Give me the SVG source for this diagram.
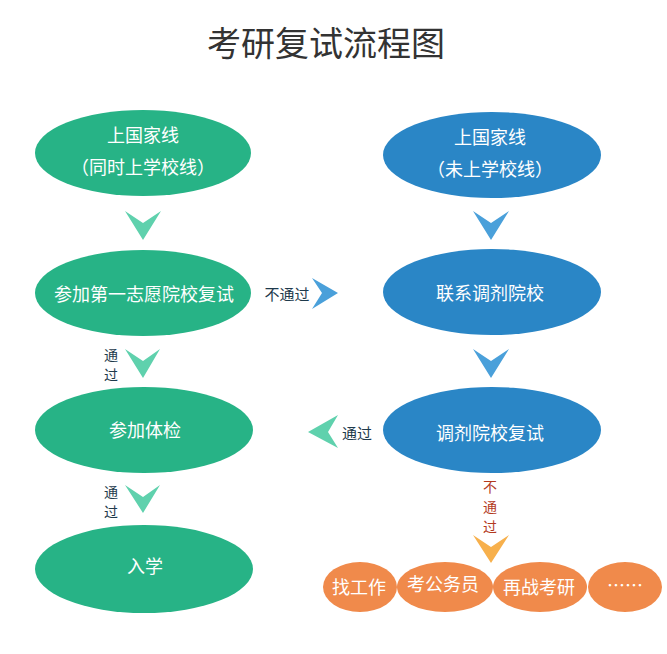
<svg xmlns="http://www.w3.org/2000/svg" width="667" height="654" viewBox="0 0 667 654">
<style>
text{font-family:"Noto Sans CJK SC","Noto Sans",sans-serif;text-anchor:middle;dominant-baseline:central}
.title{font-size:34px;fill:#333}
.g{fill:#27b386}
.b{fill:#2a86c6}
.o{fill:#f08a4b}
.nt{font-size:18px;fill:#fff}
.lb{font-size:15px;fill:#1e3a4c}
.lv{font-size:14px;fill:#1e3a4c}
.lr{font-size:14px;fill:#b33a1e}
.ag{fill:#5fd1ad}
.ab{fill:#4aa0da}
.ao{fill:#f7b04c}
</style>
<rect width="667" height="654" fill="#fff"/>
<text class="title" x="326" y="41">考研复试流程图</text>
<g id="n1"><ellipse class="g" cx="143" cy="153" rx="108" ry="43"/><text class="nt" x="143" y="134">上国家线</text><text class="nt" x="143" y="166">（同时上学校线）</text></g>
<g id="n2"><ellipse class="g" cx="143" cy="293" rx="108" ry="43"/><text class="nt" x="144" y="293">参加第一志愿院校复试</text></g>
<g id="n3"><ellipse class="g" cx="144" cy="430" rx="109" ry="43"/><text class="nt" x="145" y="429">参加体检</text></g>
<g id="n4"><ellipse class="g" cx="144" cy="569" rx="109" ry="44"/><text class="nt" x="145" y="565">入学</text></g>
<g id="n5"><ellipse class="b" cx="492" cy="155" rx="109" ry="43"/><text class="nt" x="490" y="136">上国家线</text><text class="nt" x="490" y="168">（未上学校线）</text></g>
<g id="n6"><ellipse class="b" cx="492" cy="292" rx="109" ry="43"/><text class="nt" x="490" y="292">联系调剂院校</text></g>
<g id="n7"><ellipse class="b" cx="492" cy="430" rx="109" ry="43"/><text class="nt" x="490" y="432">调剂院校复试</text></g>
<g id="n8"><ellipse class="o" cx="360" cy="587" rx="37" ry="25"/><text class="nt" x="359" y="586">找工作</text></g>
<g id="n9"><ellipse class="o" cx="445" cy="587" rx="48" ry="25"/><text class="nt" x="443" y="583">考公务员</text></g>
<g id="n10"><ellipse class="o" cx="540" cy="587" rx="47" ry="25"/><text class="nt" x="539" y="586">再战考研</text></g>
<g id="n11"><ellipse class="o" cx="625" cy="587" rx="37" ry="25"/><text class="nt" x="625" y="584">……</text></g>
<g id="connectors">
<polygon class="ag" points="125,211 143,223 161,211 143,240"/>
<polygon class="ag" points="125,349 143,361 160,349 143,378"/>
<polygon class="ag" points="125,485 143,497 160,485 143,513"/>
<polygon class="ab" points="473,211 491,223 509,211 491,240"/>
<polygon class="ab" points="473,349 491,361 509,349 491,378"/>
<polygon class="ab" points="312,278 338,293 312,309 322,293"/>
<polygon class="ag" points="338,415 328,432 338,448 308,432"/>
<polygon class="ao" points="473,535 491,547 509,535 491,563"/>
<text class="lb" x="287" y="293">不通过</text>
<text class="lv" x="111" y="354">通</text><text class="lv" x="111" y="374">过</text>
<text class="lv" x="111" y="491">通</text><text class="lv" x="111" y="511">过</text>
<text class="lb" x="357" y="432">通过</text>
<text class="lr" x="490" y="486">不</text><text class="lr" x="490" y="506">通</text><text class="lr" x="490" y="526">过</text>
</g>
</svg>
